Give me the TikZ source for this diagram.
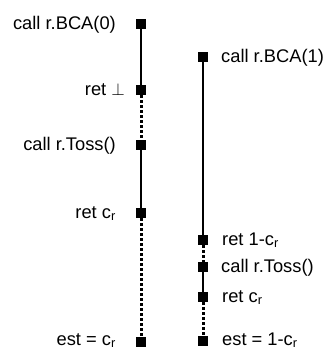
\documentclass[tikz,border=0pt]{standalone}
\usepackage{fontspec}
\setmainfont{Liberation Sans}
\begin{document}
\begin{tikzpicture}[x=1pt,y=-1pt,
  mk/.style={fill=black,minimum size=10pt,inner sep=0pt,draw=none},
  sol/.style={line width=2pt},
  dots/.style={line width=3pt,dash pattern=on 2.5pt off 2.5pt},
  lab/.style={font=\fontsize{18.3}{21}\selectfont,inner sep=0pt}]
\useasboundingbox (0,0) rectangle (324,349);
% left column markers
\node[mk] (a1) at (141,24) {};
\node[mk] (a2) at (141,90) {};
\node[mk] (a3) at (141,145) {};
\node[mk] (a4) at (141,213) {};
\node[mk] (a5) at (141,341.5) {};
% right column markers
\node[mk] (b1) at (203,57) {};
\node[mk] (b2) at (203,240) {};
\node[mk] (b3) at (203,267) {};
\node[mk] (b4) at (203,297) {};
\node[mk] (b5) at (203,341) {};
% connectors
\draw[sol] (a1) -- (a2);
\draw[dots] (a2) -- (a3);
\draw[sol] (a3) -- (a4);
\draw[dots] (a4) -- (a5);
\draw[sol] (b1) -- (b2);
\draw[dots] (b2) -- (b3);
\draw[sol] (b3) -- (b4);
\draw[dots] (b4) -- (b5);
% labels
\node[lab,anchor=base east] (la1) at (116,29) {call r.BCA(0)};
\node[lab,anchor=base east] (la2) at (125,95) {ret $\bot$};
\node[lab,anchor=base east] (la3) at (116,150) {call r.Toss()};
\node[lab,anchor=base east] (la4) at (116,218) {ret c\textsubscript{r}};
\node[lab,anchor=base east] (la5) at (116,345) {est = c\textsubscript{r}};
\node[lab,anchor=base west] (lb1) at (221,62) {call r.BCA(1)};
\node[lab,anchor=base west] (lb2) at (222,245) {ret 1-c\textsubscript{r}};
\node[lab,anchor=base west] (lb3) at (221,272) {call r.Toss()};
\node[lab,anchor=base west] (lb4) at (222,302) {ret c\textsubscript{r}};
\node[lab,anchor=base west] (lb5) at (222,345) {est = 1-c\textsubscript{r}};
\end{tikzpicture}
\end{document}
